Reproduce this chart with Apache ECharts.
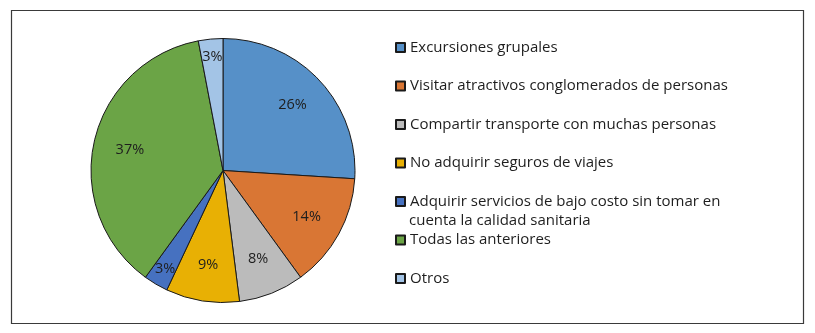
<!DOCTYPE html>
<html><head><meta charset="utf-8">
<script src="https://cdn.jsdelivr.net/npm/echarts@6/dist/echarts.min.js"></script>
<style>html,body{margin:0;padding:0;background:#fff}#c{width:815px;height:333px}</style>
</head><body><div id="c"></div>
<script>
const categories = [
  'Excursiones grupales',
  'Visitar atractivos conglomerados de personas',
  'Compartir transporte con muchas personas',
  'No adquirir seguros de viajes',
  'Adquirir servicios de bajo costo sin tomar en\ncuenta la calidad sanitaria',
  'Todas las anteriores',
  'Otros'
];
const values = [26, 14, 8, 9, 3, 37, 3];
const colors = ['#5690C8', '#D97634', '#BBBBBB', '#E8B004', '#4671C0', '#6BA446', '#A3C4E6'];

const chart = echarts.init(document.getElementById('c'));
const FONT = '"Open Sans"';
const FS = 15;
const R = 132;
const center = [223, 170.5];
const isSmall = v => v < 5;

const baseData = categories.map((n, i) => ({ name: n, value: values[i], itemStyle: { color: colors[i] } }));
const labelData = (pickSmall) => categories.map((n, i) => ({
  name: n, value: values[i],
  label: { show: isSmall(values[i]) === pickSmall }
}));

const labelSeries = (radius, pickSmall) => ({
  type: 'pie', center, radius, startAngle: 90, clockwise: true,
  silent: true, animation: false,
  itemStyle: { color: 'rgba(0,0,0,0)', borderWidth: 0 },
  label: { position: 'inside', formatter: '{c}%', fontFamily: FONT, fontSize: 14.5, color: '#1e1e1e' },
  labelLine: { show: false },
  emphasis: { disabled: true },
  data: labelData(pickSmall)
});

// second line of the two-line legend entry (legend shows first line; continuation drawn as text)
const wrapped = categories.find(c => c.indexOf('\n') >= 0);
const continuation = wrapped ? wrapped.split('\n')[1] : '';

chart.setOption({
  animation: false,
  backgroundColor: '#fff',
  graphic: [
    {
      type: 'rect', shape: { x: 11.5, y: 10.5, width: 792, height: 313 },
      style: { fill: 'none', stroke: '#3a3a3a', lineWidth: 1.2 }, silent: true
    },
    {
      type: 'text', x: 409, y: 220.5, silent: true,
      style: { text: continuation, font: FS + 'px ' + FONT, fill: '#1e1e1e', textVerticalAlign: 'middle', verticalAlign: 'middle' }
    }
  ],
  legend: {
    orient: 'vertical', left: 395, top: 38, padding: 0,
    itemWidth: 9, itemHeight: 9, icon: 'rect',
    itemGap: 19.5, selectedMode: false,
    formatter: name => name.split('\n')[0],
    textStyle: { fontFamily: FONT, fontSize: FS, lineHeight: 19, color: '#1e1e1e' },
    data: categories
  },
  series: [
    {
      type: 'pie', center, radius: R, startAngle: 90, clockwise: true,
      animation: false,
      itemStyle: { borderColor: '#1a1a1a', borderWidth: 1 },
      label: { show: false }, labelLine: { show: false },
      emphasis: { disabled: true },
      data: baseData
    },
    labelSeries([R * 0.4, R], false),
    labelSeries([R * 0.68, R], true)
  ]
});
</script></body></html>
